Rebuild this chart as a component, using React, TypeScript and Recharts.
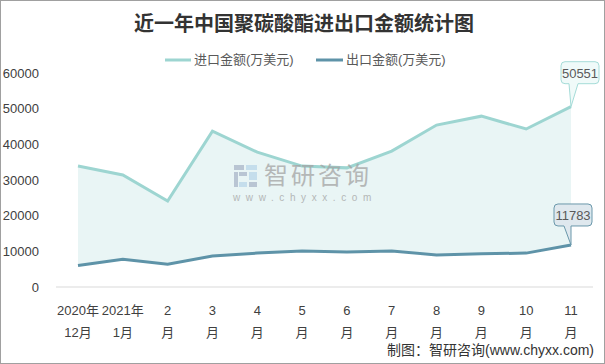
import { ComposedChart, Area, Line, XAxis, YAxis, LabelList } from 'recharts';

const monthTop = ['2020年', '2021年', '2', '3', '4', '5', '6', '7', '8', '9', '10', '11'];
const monthBottom = ['12月', '1月', '月', '月', '月', '月', '月', '月', '月', '月', '月', '月'];
const importValues = [33900, 31400, 24100, 43700, 37800, 33900, 33400, 38100, 45400, 47900, 44300, 50551];
const exportValues = [6000, 7800, 6400, 8700, 9500, 10100, 9800, 10100, 9000, 9300, 9500, 11783];
const yTicks = [0, 10000, 20000, 30000, 40000, 50000, 60000];

const IMPORT_COLOR = '#9dd5d1';
const EXPORT_COLOR = '#5e93a8';
const FONT = '"Liberation Sans", "Noto Sans CJK SC", sans-serif';

const data = monthTop.map((m, i) => ({
  name: i,
  imp: importValues[i],
  exp: exportValues[i],
  range: [exportValues[i], importValues[i]],
}));

function MonthTick(props: any) {
  const { x, y, payload } = props;
  const i = payload.value;
  return (
    <text x={x} y={y} textAnchor="middle" fill="#404040" fontSize={13} fontFamily={FONT}>
      <tspan x={x} y={y + 28}>{monthTop[i]}</tspan>
      <tspan x={x} y={y + 50}>{monthBottom[i]}</tspan>
    </text>
  );
}

// rounded box with a pointer at the bottom going to (tx, ty)
function calloutPath(bx: number, by: number, w: number, h: number, r: number, p1: number, p2: number, tx: number, ty: number) {
  return `M${bx + r},${by} H${bx + w - r} Q${bx + w},${by} ${bx + w},${by + r} V${by + h - r} Q${bx + w},${by + h} ${bx + w - r},${by + h} H${p2} L${tx},${ty} L${p1},${by + h} H${bx + r} Q${bx},${by + h} ${bx},${by + h - r} V${by + r} Q${bx},${by} ${bx + r},${by} Z`;
}

const makeCallout = (stroke: string, fill: string, dx: number, dy: number, p1: number, p2: number) => (props: any) => {
  const { x, y, value, index } = props;
  if (index !== data.length - 1) return null;
  const w = 38;
  const h = 22;
  const bx = x + dx;
  const by = y + dy;
  return (
    <g>
      <path d={calloutPath(bx, by, w, h, 4, x + p1, x + p2, x, y)} fill={fill} stroke={stroke} strokeWidth={1} />
      <text x={bx + w / 2} y={by + 16} textAnchor="middle" fontSize={13} fill="#595959" fontFamily={FONT}>
        {value}
      </text>
    </g>
  );
};

function Watermark() {
  return (
    <svg width={605} height={364} style={{ position: 'absolute', left: 0, top: 0, pointerEvents: 'none' }}>
      <g opacity={0.75}>
        <rect x={233} y={164} width={10} height={5} fill="#a9b6c8" />
        <rect x={245} y={164} width={11} height={5} fill="#b9d7ea" />
        <rect x={238} y={171} width={8} height={4} fill="#a9b6c8" />
        <rect x={248} y={171} width={8} height={8} fill="#b9d7ea" />
        <rect x={233} y={171} width={4} height={15} fill="#a9b6c8" />
        <rect x={238} y={181} width={8} height={5} fill="#b9d7ea" />
        <rect x={248} y={181} width={8} height={5} fill="#a9b6c8" />
        <text x={263} y={183} fontSize={24} letterSpacing={3} fill="#a3a3a3" fontFamily='"Noto Sans CJK SC", sans-serif'>
          智研咨询
        </text>
        <text x={232} y={200} fontSize={10} fill="#a3a3a3" letterSpacing={5.6} fontFamily={FONT}>
          www.chyxx.com
        </text>
      </g>
    </svg>
  );
}

function Overlay() {
  return (
    <svg width={605} height={364} style={{ position: 'absolute', left: 0, top: 0, pointerEvents: 'none' }}>
      <text x={303} y={30} textAnchor="middle" fontSize={20} fontWeight="bold" fill="#333" fontFamily='"Noto Sans CJK SC", serif'>
        近一年中国聚碳酸酯进出口金额统计图
      </text>
      <line x1={164} y1={59} x2={190} y2={59} stroke={IMPORT_COLOR} strokeWidth={3} />
      <text x={193} y={63} fontSize={13} fill="#595959" fontFamily={FONT}>进口金额(万美元)</text>
      <line x1={315} y1={59} x2={342} y2={59} stroke={EXPORT_COLOR} strokeWidth={3} />
      <text x={345} y={63} fontSize={13} fill="#595959" fontFamily={FONT}>出口金额(万美元)</text>
      <text x={593} y={354} textAnchor="end" fontSize={14} fill="#333" fontFamily={FONT}>
        制图：智研咨询(www.chyxx.com)
      </text>
    </svg>
  );
}

export default function App() {
  return (
    <div
      style={{
        position: 'absolute',
        left: 0,
        top: 0,
        width: 605,
        height: 364,
        background: '#fff',
        border: '1px solid #a0a0a0',
        boxSizing: 'border-box',
        overflow: 'hidden',
      }}
    >
      <div style={{ position: 'absolute', left: -1, top: -1 }}>
        <ComposedChart width={605} height={364} data={data} margin={{ top: 73, right: 12, bottom: 17, left: 0 }}>
          <XAxis
            dataKey="name"
            type="category"
            height={60}
            padding={{ left: 22, right: 22 }}
            axisLine={{ stroke: '#d9d9d9' }}
            tickLine={false}
            tickSize={0}
            tickMargin={0}
            interval={0}
            tick={<MonthTick />}
          />
          <YAxis
            width={56}
            domain={[0, 60000]}
            ticks={yTicks}
            axisLine={false}
            tickLine={false}
            tickMargin={11}
            tick={{ fontSize: 13, fill: '#404040', fontFamily: FONT }}
          />
          <Area dataKey="range" stroke="none" fill="#e9f5f5" fillOpacity={1} isAnimationActive={false} />
          <Line dataKey="imp" stroke={IMPORT_COLOR} strokeWidth={3} dot={false} isAnimationActive={false}>
            <LabelList dataKey="imp" content={makeCallout('#a5dcd8', '#f0faf9', -10, -45, -2, 7)} />
          </Line>
          <Line dataKey="exp" stroke={EXPORT_COLOR} strokeWidth={3} dot={false} isAnimationActive={false}>
            <LabelList dataKey="exp" content={makeCallout('#6a98ab', '#dfe8ee', -17, -41, -7, 0)} />
          </Line>
        </ComposedChart>
      </div>
      <Watermark />
      <Overlay />
    </div>
  );
}
